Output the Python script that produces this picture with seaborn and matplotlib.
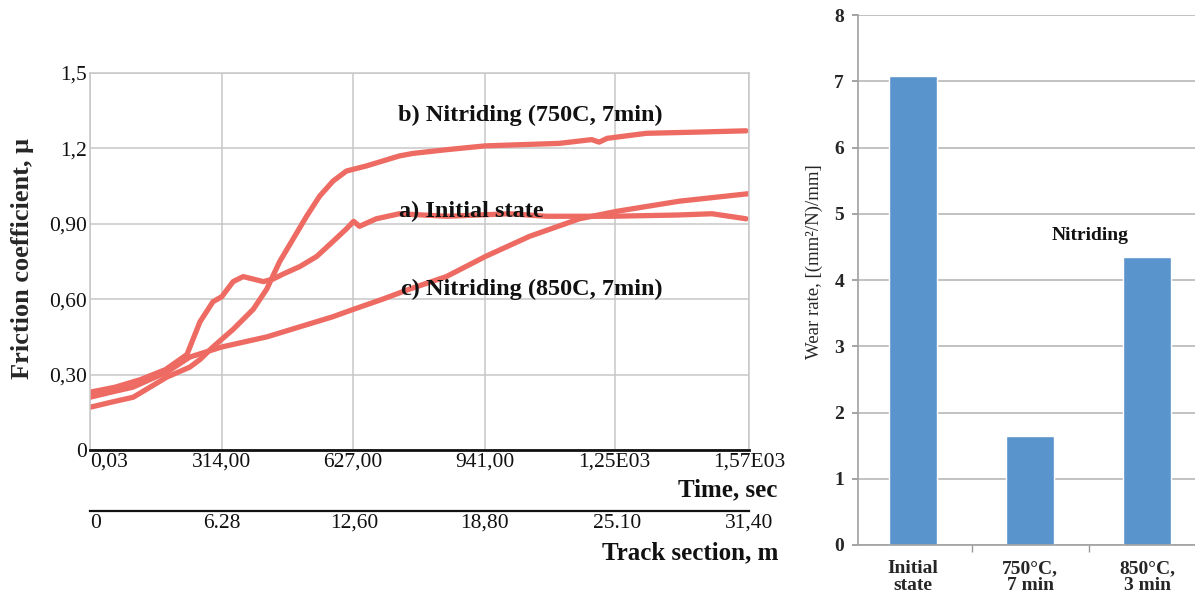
import numpy as np
import pandas as pd
import matplotlib
matplotlib.use('Agg')
import matplotlib.pyplot as plt
import seaborn as sns

# friction curves: time [s] vs friction coefficient
time_a = [0, 60, 120, 180, 214, 231, 262, 293, 314, 341, 365, 389, 413, 436, 460, 500, 540, 579,
          611, 628, 642, 682, 737, 850, 1000, 1087, 1244, 1400, 1482, 1563]
mu_a = [0.23, 0.25, 0.28, 0.32, 0.36, 0.38, 0.51, 0.59, 0.61, 0.67, 0.69, 0.68, 0.67, 0.68, 0.70,
        0.73, 0.77, 0.83, 0.88, 0.91, 0.89, 0.92, 0.94, 0.93, 0.94, 0.93, 0.93, 0.935, 0.94, 0.92]

time_b = [0, 50, 103, 183, 238, 262, 293, 341, 389, 421, 452, 484, 516, 547, 579, 611, 658, 737,
          769, 850, 941, 1118, 1195, 1213, 1232, 1325, 1450, 1563]
mu_b = [0.17, 0.19, 0.21, 0.29, 0.33, 0.36, 0.41, 0.48, 0.56, 0.64, 0.75, 0.84, 0.93, 1.01, 1.07,
        1.11, 1.13, 1.17, 1.18, 1.195, 1.21, 1.22, 1.235, 1.225, 1.24, 1.26, 1.265, 1.27]

time_c = [0, 50, 102, 183, 238, 314, 421, 578, 628, 697, 761, 849, 942, 1047, 1166, 1256, 1404, 1570]
mu_c = [0.21, 0.23, 0.25, 0.31, 0.37, 0.41, 0.45, 0.53, 0.56, 0.60, 0.64, 0.69, 0.77, 0.85, 0.92,
        0.95, 0.99, 1.02]

curve_labels = ['b) Nitriding (750C, 7min)', 'a) Initial state', 'c) Nitriding (850C, 7min)']
label_x = [733, 737, 742]
label_y = [1.33, 0.95, 0.64]

time_ticks = [0, 314, 627, 941, 1250, 1570]
time_ticklabels = ['0,03', '314,00', '627,00', '941,00', '1,25E03', '1,57E03']
track_ticks = [0, 6.28, 12.6, 18.8, 25.1, 31.4]
track_ticklabels = ['0', '6.28', '12,60', '18,80', '25.10', '31,40']
mu_ticks = [0, 0.3, 0.6, 0.9, 1.2, 1.5]
mu_ticklabels = ['0', '0,30', '0,60', '0,90', '1,2', '1,5']

# wear rate bars
wear_cats = ['Initial\nstate', '750°C,\n7 min', '850°C,\n3 min']
wear_vals = [7.08, 1.64, 4.35]

sns.set_theme(style='white')
plt.rcParams['font.family'] = ['Liberation Serif', 'DejaVu Serif']
plt.rcParams['text.color'] = '#111111'

line_col = '#EE6B63'
bar_col = '#5A94CD'
grid_col = '#c8c8c8'

df = pd.concat([
    pd.DataFrame({'time': time_a, 'mu': mu_a, 'curve': 'a'}),
    pd.DataFrame({'time': time_b, 'mu': mu_b, 'curve': 'b'}),
    pd.DataFrame({'time': time_c, 'mu': mu_c, 'curve': 'c'}),
])

fig = plt.figure(figsize=(11.95, 5.94), dpi=100)
ax = fig.add_axes([0.0753, 0.2424, 0.5515, 0.6347])
ax2 = fig.add_axes([0.718, 0.0825, 0.282, 0.892])

# ---- left: friction coefficient
sns.lineplot(data=df, x='time', y='mu', units='curve', estimator=None, color=line_col,
             linewidth=3.8, ax=ax, legend=False)
ax.set_xlim(0, 1570)
ax.set_ylim(0, 1.5)
ax.set_xticks(time_ticks)
ax.set_xticklabels(time_ticklabels, fontsize=15.5)
ax.set_yticks(mu_ticks)
ax.set_yticklabels(mu_ticklabels, fontsize=15.5)
ax.get_xticklabels()[0].set_ha('left')
ax.tick_params(axis='both', length=0, pad=2, colors='#111111')
ax.grid(True, color=grid_col, linewidth=1.1)
for s in ['top', 'right', 'left']:
    ax.spines[s].set_color(grid_col)
    ax.spines[s].set_linewidth(1.1)
ax.spines['bottom'].set_color('#111111')
ax.spines['bottom'].set_linewidth(2)
ax.set_xlabel('')
ax.set_ylabel('Friction coefficient, μ', fontsize=19, fontweight='bold')
ax.yaxis.set_label_coords(-0.085, 0.507)

for txt, x, y in zip(curve_labels, label_x, label_y):
    ax.text(x, y, txt, fontsize=17.5, fontweight='bold', ha='left', va='center')

ax.text(1.0425, -0.106, 'Time, sec', transform=ax.transAxes, fontsize=18,
        fontweight='bold', ha='right', va='center')

sec = ax.secondary_xaxis(-0.162, functions=(lambda s: s * 0.02, lambda m: m / 0.02))
sec.set_xticks(track_ticks)
sec.set_xticklabels(track_ticklabels, fontsize=15.5)
sec.get_xticklabels()[0].set_ha('left')
sec.tick_params(length=0, pad=2, colors='#111111')
sec.spines['bottom'].set_color('#111111')
sec.spines['bottom'].set_linewidth(1.6)
ax.text(1.044, -0.273, 'Track section, m', transform=ax.transAxes, fontsize=18,
        fontweight='bold', ha='right', va='center')

# ---- right: wear rate
sns.barplot(x=wear_cats, y=wear_vals, color=bar_col, saturation=1, width=0.41, ax=ax2)
ax2.set_xlim(-0.47, 2.41)
ax2.set_ylim(0, 8)
ax2.set_yticks(range(9))
ax2.set_yticklabels([str(i) for i in range(9)], fontsize=14, fontweight='bold')
ax2.set_xticks([0, 1, 2])
ax2.set_xticklabels(wear_cats, fontsize=14, fontweight='bold', linespacing=1.0)
ax2.set_xticks([0.5, 1.5], minor=True)
ax2.tick_params(axis='x', which='major', length=0, pad=11)
ax2.tick_params(axis='x', which='minor', length=5, color='#999999', direction='out', bottom=True)
ax2.tick_params(axis='y', length=4, color='#999999', left=True, pad=6)
ax2.grid(True, axis='y', color='#b8b8b8', linewidth=1.2)
ax2.set_axisbelow(True)
for s in ['top', 'right']:
    ax2.spines[s].set_visible(False)
for s in ['left', 'bottom']:
    ax2.spines[s].set_color('#a0a0a0')
    ax2.spines[s].set_linewidth(1.2)
ax2.set_ylabel('Wear rate, [(mm²/N)/mm]', fontsize=13.5)
ax2.yaxis.set_label_coords(-0.105, 0.534)
ax2.text(1.51, 4.68, 'Nitriding', fontsize=14, fontweight='bold', ha='center', va='center')

fig.savefig('out.png', dpi=100)
